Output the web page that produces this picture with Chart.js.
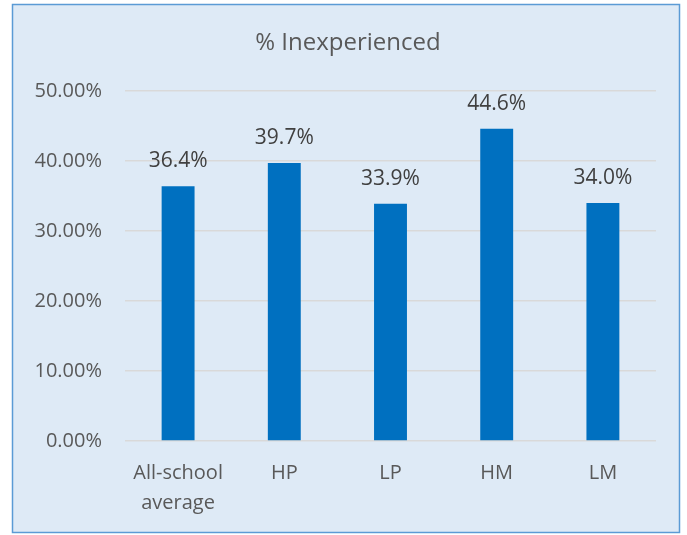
<!DOCTYPE html>
<html><head><meta charset="utf-8">
<script src="https://cdn.jsdelivr.net/npm/chart.js@4"></script>
<style>html,body{margin:0;padding:0;background:#fff}#wrap{width:687px;height:535px}</style>
</head><body><div id="wrap"><canvas id="c" width="687" height="535"></canvas></div>
<script>
const categories = [["All-school","average"], "HP", "LP", "HM", "LM"];
const values = [36.4, 39.7, 33.9, 44.6, 34.0];
const yTicks = [0, 10, 20, 30, 40, 50];
const titleText = "% Inexperienced";
const FONT = "'Open Sans', sans-serif";
const TXT = "#595959";

const frame = {
  id: 'frame',
  beforeDraw(chart) {
    const ctx = chart.ctx;
    ctx.save();
    ctx.fillStyle = '#fff';
    ctx.fillRect(0, 0, chart.width, chart.height);
    ctx.fillStyle = '#DEEAF6';
    ctx.fillRect(12, 4, 668, 529);
    ctx.strokeStyle = '#5B9BD5';
    ctx.lineWidth = 1.5;
    ctx.strokeRect(12.5, 4.5, 667, 528);
    ctx.fillStyle = TXT;
    ctx.font = "24px " + FONT;
    ctx.textAlign = 'center';
    ctx.textBaseline = 'middle';
    ctx.fillText(titleText, 348, 43);
    ctx.restore();
  },
  afterDatasetsDraw(chart) {
    const ctx = chart.ctx;
    const meta = chart.getDatasetMeta(0);
    ctx.save();
    ctx.fillStyle = '#404040';
    ctx.font = "21px " + FONT;
    ctx.textAlign = 'center';
    ctx.textBaseline = 'middle';
    meta.data.forEach((bar, i) => {
      ctx.fillText(values[i].toFixed(1) + '%', bar.x, bar.y - 25);
    });
    ctx.restore();
  }
};

new Chart(document.getElementById('c'), {
  type: 'bar',
  data: {
    labels: categories,
    datasets: [{
      data: values,
      backgroundColor: '#0070C0',
      barPercentage: 0.31,
      categoryPercentage: 1
    }]
  },
  options: {
    responsive: false,
    animation: false,
    layout: { padding: { top: 91, right: 31, bottom: 0, left: 0 } },
    plugins: { legend: { display: false }, title: { display: false }, tooltip: { enabled: false } },
    scales: {
      x: {
        grid: { display: false },
        border: { display: false },
        ticks: { color: TXT, font: { family: FONT, size: 20, lineHeight: 1.5 }, padding: 9, maxRotation: 0, autoSkip: false },
        afterFit(s) { s.height = 94; }
      },
      y: {
        min: 0, max: 50,
        afterBuildTicks(s) { s.ticks = yTicks.map(v => ({ value: v })); },
        grid: { color: '#D9D9D9', lineWidth: 1.5, drawTicks: false },
        border: { display: false },
        ticks: { color: TXT, font: { family: FONT, size: 20 }, padding: 23,
                 callback: v => v.toFixed(2) + '%' },
        afterFit(s) { s.width = 125; }
      }
    }
  },
  plugins: [frame]
});
</script>
</body></html>
